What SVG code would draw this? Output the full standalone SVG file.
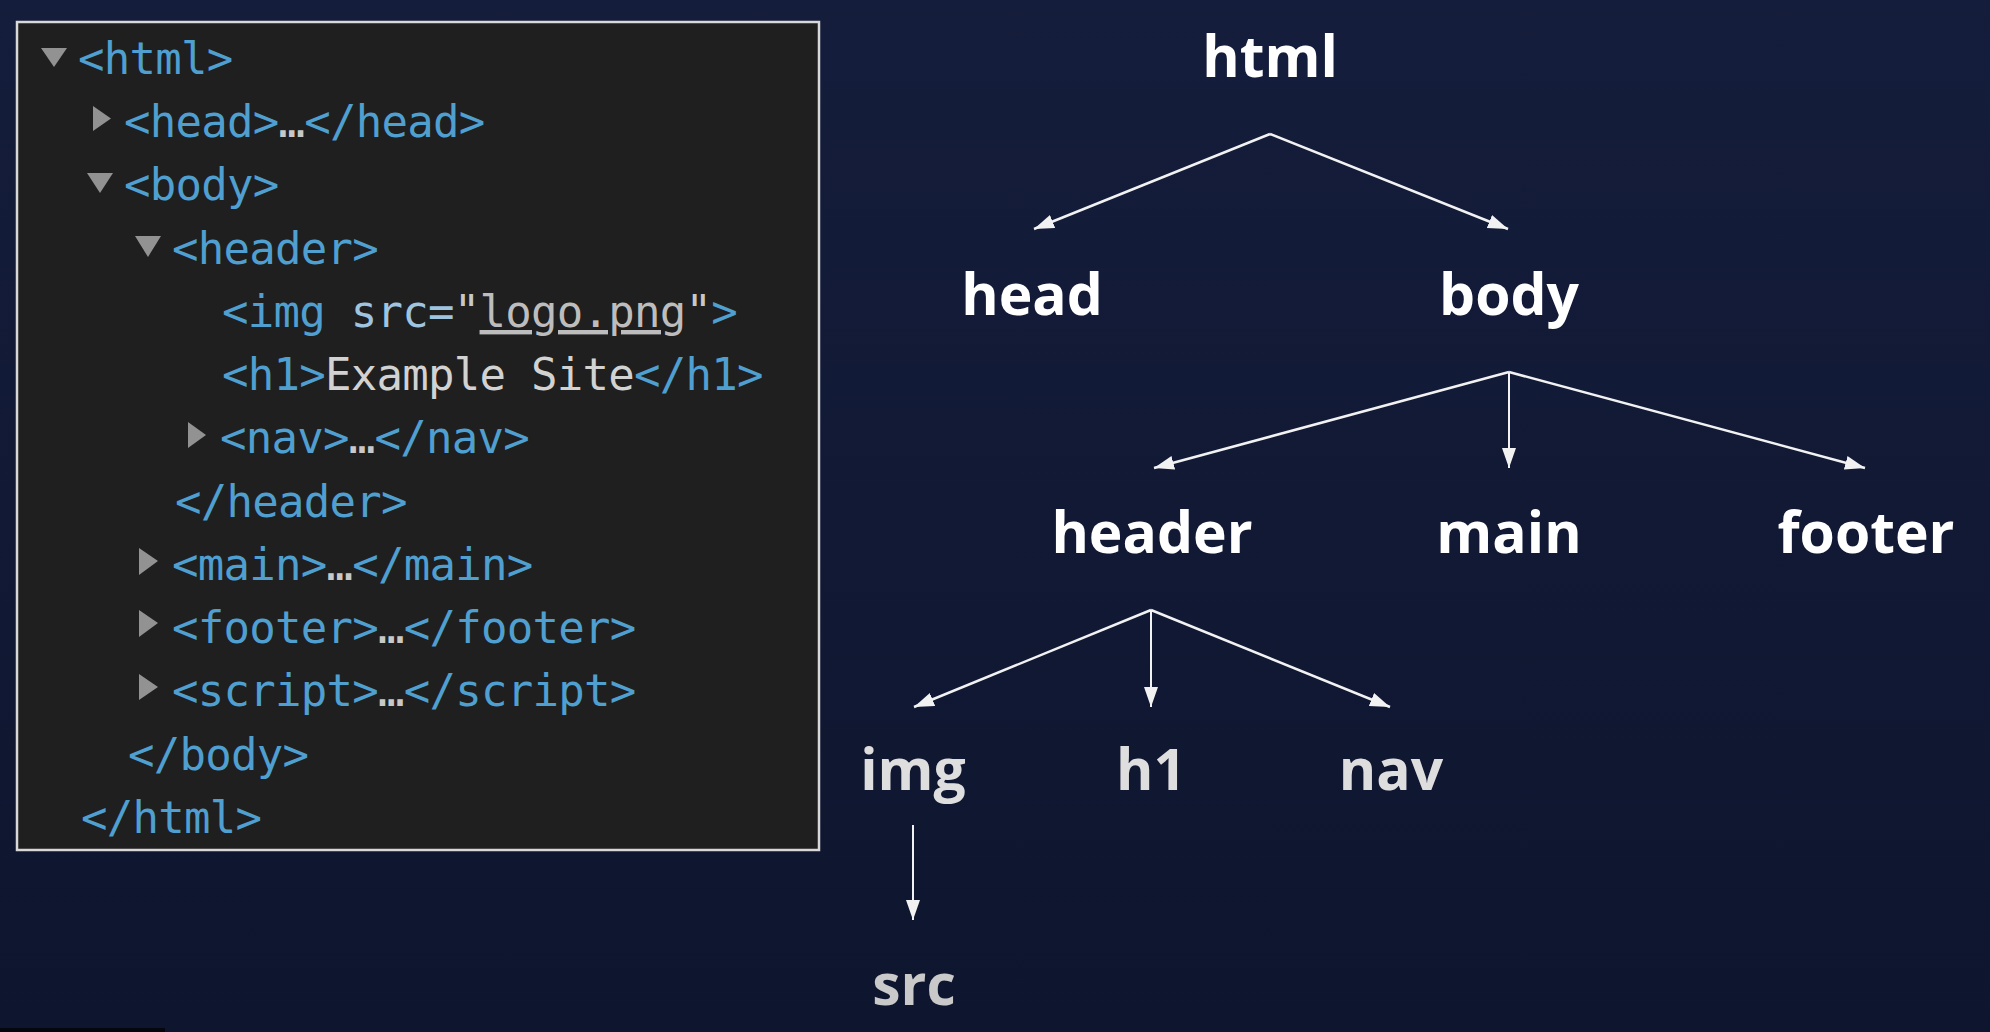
<svg xmlns="http://www.w3.org/2000/svg" width="1990" height="1032" viewBox="0 0 1990 1032">
<defs>
<linearGradient id="bg" x1="0" y1="0" x2="0" y2="1">
<stop offset="0" stop-color="#141d3b"/>
<stop offset="1" stop-color="#0e152e"/>
</linearGradient>
<marker id="ah" markerUnits="userSpaceOnUse" markerWidth="22" markerHeight="16" refX="20" refY="7" orient="auto">
<path d="M0,0 L20,7 L0,14 z" fill="#f2f2f2"/>
</marker>
<style>
.code{font-family:"DejaVu Sans Mono","Liberation Mono",monospace;font-size:44px;letter-spacing:-0.74px;fill:#4f9fd0;}
.attr{fill:#9fc4e0;}
.val{fill:#bdbdbd;text-decoration:underline;}
.txt{fill:#d2d2d2;}
.ell{fill:#c8c8c8;}
.tri{fill:#929292;}
.lbl{font-family:"Open Sans","Liberation Sans",sans-serif;font-weight:700;font-size:57px;fill:#ffffff;text-anchor:middle;}
.lbl2{fill:#dedede;}
.lbl3{fill:#c9c9c9;}
.edge{stroke:#f2f2f2;stroke-width:2.5;fill:none;marker-end:url(#ah);}
.vedge{stroke-width:2;}
</style>
</defs>
<rect x="0" y="0" width="1990" height="1032" fill="url(#bg)"/>
<rect x="0" y="1028" width="165" height="4" fill="#05070f"/>

<g id="code-panel">
<rect x="17" y="22" width="802" height="828" fill="#1f1f1f" stroke="#d8d8d8" stroke-width="2.5"/>
<polygon class="tri" points="41,48 67,48 54,67"/>
<polygon class="tri" points="93,106 111,118.5 93,131"/>
<polygon class="tri" points="87,173 113,173 100,193"/>
<polygon class="tri" points="135,236 161,236 148,257"/>
<polygon class="tri" points="188,422 206,435 188,448"/>
<polygon class="tri" points="139,548 158,561 139,575"/>
<polygon class="tri" points="139,610 158,623 139,637"/>
<polygon class="tri" points="139,674 158,687 139,700"/>
<text class="code" x="78" y="74">&lt;html&gt;</text>
<text class="code" x="124" y="137">&lt;head&gt;<tspan class="ell">…</tspan>&lt;/head&gt;</text>
<text class="code" x="124" y="200">&lt;body&gt;</text>
<text class="code" x="172" y="264">&lt;header&gt;</text>
<text class="code" x="222" y="327">&lt;img <tspan class="attr">src=</tspan><tspan class="ell">"</tspan><tspan class="val">logo.png</tspan><tspan class="ell">"</tspan>&gt;</text>
<text class="code" x="222" y="390">&lt;h1&gt;<tspan class="txt">Example Site</tspan>&lt;/h1&gt;</text>
<text class="code" x="220" y="453">&lt;nav&gt;<tspan class="ell">…</tspan>&lt;/nav&gt;</text>
<text class="code" x="175" y="517">&lt;/header&gt;</text>
<text class="code" x="172" y="580">&lt;main&gt;<tspan class="ell">…</tspan>&lt;/main&gt;</text>
<text class="code" x="172" y="643">&lt;footer&gt;<tspan class="ell">…</tspan>&lt;/footer&gt;</text>
<text class="code" x="172" y="706">&lt;script&gt;<tspan class="ell">…</tspan>&lt;/script&gt;</text>
<text class="code" x="128" y="770">&lt;/body&gt;</text>
<text class="code" x="81" y="833">&lt;/html&gt;</text>
</g>

<g id="connectors">
<line class="edge" x1="1270" y1="134" x2="1034" y2="229"/>
<line class="edge" x1="1270" y1="134" x2="1508" y2="229"/>
<line class="edge" x1="1509" y1="372" x2="1154" y2="468"/>
<line class="edge vedge" x1="1509" y1="372" x2="1509" y2="468"/>
<line class="edge" x1="1509" y1="372" x2="1865" y2="468"/>
<line class="edge" x1="1151" y1="610" x2="914" y2="707"/>
<line class="edge vedge" x1="1151" y1="610" x2="1151" y2="707"/>
<line class="edge" x1="1151" y1="610" x2="1390" y2="707"/>
<line class="edge vedge" x1="913" y1="825" x2="913" y2="920"/>
</g>

<g id="node-html"><text class="lbl" x="1270" y="77">html</text></g>
<g id="node-head"><text class="lbl" x="1032" y="315">head</text></g>
<g id="node-body"><text class="lbl" x="1509" y="315">body</text></g>
<g id="node-header"><text class="lbl" x="1152" y="553">header</text></g>
<g id="node-main"><text class="lbl" x="1509" y="553">main</text></g>
<g id="node-footer"><text class="lbl" x="1866" y="553">footer</text></g>
<g id="node-img"><text class="lbl lbl2" x="913" y="790">img</text></g>
<g id="node-h1"><text class="lbl lbl2" x="1151" y="790">h1</text></g>
<g id="node-nav"><text class="lbl lbl2" x="1391" y="790">nav</text></g>
<g id="node-src"><text class="lbl lbl3" x="914" y="1005">src</text></g>
</svg>
